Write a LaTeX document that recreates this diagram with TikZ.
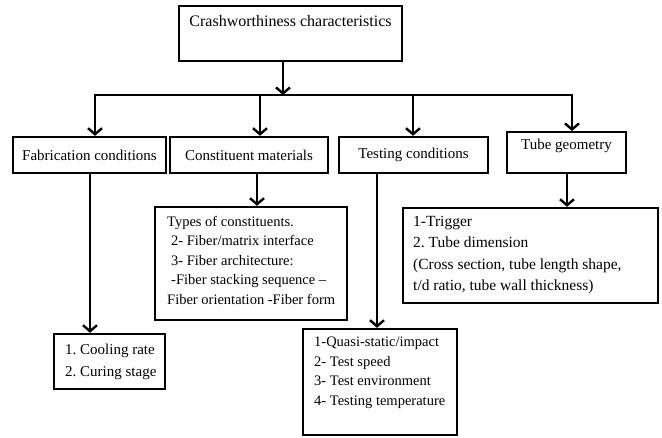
\documentclass[tikz,border=0pt]{standalone}
\usepackage{fontspec}
\setmainfont{Liberation Serif}
\usetikzlibrary{arrows.meta}
\frenchspacing
\tikzset{
  box/.style={draw, line width=2.4pt, inner sep=0pt, rectangle},
  txt/.style={inner sep=0pt, align=left},
  ln/.style={line width=2.4pt, line cap=rect},
  arr/.style={line width=2.4pt, -{Straight Barb[length=6pt,width=14pt]}},
}
\newcommand{\fs}[2]{\fontsize{#1}{#2}\selectfont}
\begin{document}
\begin{tikzpicture}[x=1pt,y=-1pt]
\useasboundingbox (0,0) rectangle (662,437);
% level 0
\node[box, anchor=north, minimum width=223pt, text height=20pt, text depth=35pt, font=\fs{16}{19}] (top) at (290.5,5) {Crashworthiness characteristics};
% level 1
\node[box, minimum width=153pt, minimum height=36pt, font=\fs{15}{18}] (fab) at (89.5,155) {Fabrication conditions};
\node[box, minimum width=158pt, minimum height=36pt, font=\fs{15}{18}] (con) at (249,155) {Constituent materials};
\node[box, minimum width=149pt, minimum height=36pt, font=\fs{15}{18}] (tes) at (413.5,155) {Testing conditions};
\node[box, anchor=north, minimum width=119pt, text height=17pt, text depth=24pt, font=\fs{15}{18}] (tub) at (566.5,131) {Tube geometry};
% level 2 boxes
\node[box, minimum width=192pt, minimum height=113pt] (cdet) at (251,263.5) {};
\node[txt, anchor=north west, font=\fs{14.5}{19.5}] (cdett) at (167,216) {Types of constituents.\\
\hspace{4pt}2- Fiber/matrix interface\\
\hspace{4pt}3- Fiber architecture:\\
\hspace{4pt}-Fiber stacking sequence –\\
Fiber orientation -Fiber form};
\node[box, minimum width=255pt, minimum height=95pt] (gdet) at (530.5,255.5) {};
\node[txt, anchor=north west, font=\fs{15.5}{21.5}] (gdett) at (413,216) {1-Trigger\\
2. Tube dimension\\
(Cross section, tube length shape,\\
t/d ratio, tube wall thickness)};
\node[box, minimum width=111pt, minimum height=55pt] (cool) at (109.5,361.5) {};
\node[txt, anchor=north west, font=\fs{15}{22}] (coolt) at (65,344) {1. Cooling rate\\
2. Curing stage};
\node[box, minimum width=154pt, minimum height=106pt] (tdet) at (380,382) {};
\node[txt, anchor=north west, font=\fs{14.5}{19.5}] (tdett) at (314,337) {1-Quasi-static/impact\\
2- Test speed\\
3- Test environment\\
4- Testing temperature};
% connectors
\coordinate (c0) at (283,95);
\coordinate (bl) at (95,95);
\coordinate (b2) at (260,95);
\coordinate (b3) at (413,95);
\coordinate (br) at (572,95);
\draw[ln] (bl) -- (br);
\draw[arr] (top.south -| c0) -- (c0);
\draw[arr] (bl) -- (bl |- fab.north);
\draw[arr] (b2) -- (b2 |- con.north);
\draw[arr] (b3) -- (b3 |- tes.north);
\draw[arr] (br) -- (br |- tub.north);
\coordinate (d1) at (90,0);
\coordinate (d2) at (257,0);
\coordinate (d3) at (377,0);
\coordinate (d4) at (567,0);
\draw[arr] (d1 |- fab.south) -- (d1 |- cool.north);
\draw[arr] (d2 |- con.south) -- (d2 |- cdet.north);
\draw[arr] (d3 |- tes.south) -- (d3 |- tdet.north);
\draw[arr] (d4 |- tub.south) -- (d4 |- gdet.north);
\end{tikzpicture}
\end{document}
